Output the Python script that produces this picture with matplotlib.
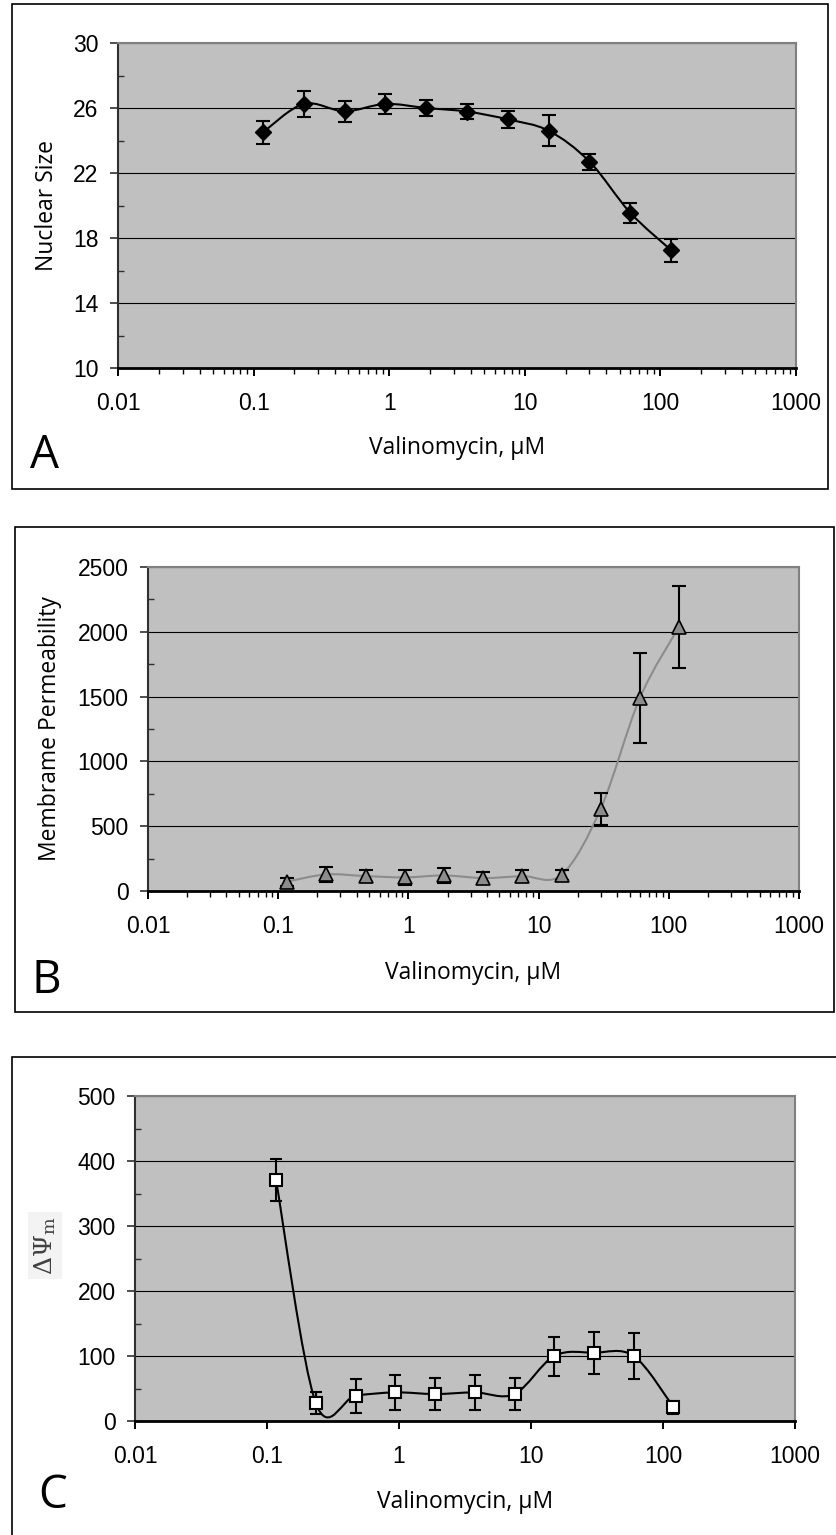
import numpy as np
import matplotlib
matplotlib.use('Agg')
import matplotlib.pyplot as plt
from matplotlib.path import Path
from matplotlib.patches import PathPatch, Rectangle
from matplotlib.ticker import FixedLocator, FixedFormatter, MultipleLocator, LogLocator, NullLocator

# ---- data ----
conc = [0.117, 0.234, 0.469, 0.938, 1.875, 3.75, 7.5, 15, 30, 60, 120]  # Valinomycin, uM
x_ticks = [0.01, 0.1, 1, 10, 100, 1000]
x_tick_labels = ['0.01', '0.1', '1', '10', '100', '1000']

nuclear_size = [24.5, 26.25, 25.8, 26.25, 26.0, 25.78, 25.3, 24.6, 22.7, 19.55, 17.25]
nuclear_err = [0.7, 0.8, 0.65, 0.6, 0.47, 0.47, 0.5, 0.95, 0.5, 0.6, 0.7]

permeability = [72, 128, 115, 105, 120, 100, 115, 125, 635, 1490, 2040]
perm_err = [30, 55, 45, 55, 55, 45, 45, 40, 122, 350, 316]

delta_psi = [371, 28, 39, 44, 41.5, 44, 41.5, 100, 105, 100, 21.5]
delta_err = [32, 17, 26, 27, 25, 27, 25, 30, 32, 36, 10]

plt.rcParams['font.family'] = ['Liberation Sans', 'DejaVu Sans']

W, H = 836, 1535
fig = plt.figure(figsize=(W / 100, H / 100), dpi=100)


def px_axes(left, top, right, bottom):
    return fig.add_axes([left / W, 1 - bottom / H, (right - left) / W, (bottom - top) / H])


def smooth_path(x, y):
    # Excel style smoothed line: cubic bezier through the points (in log-x space)
    pts = np.column_stack([np.log10(x), y])
    n = len(pts)
    verts = [pts[0]]
    codes = [Path.MOVETO]
    for i in range(n - 1):
        p0 = pts[max(i - 1, 0)]
        p1 = pts[i]
        p2 = pts[i + 1]
        p3 = pts[min(i + 2, n - 1)]
        verts += [p1 + (p2 - p0) / 6, p2 - (p3 - p1) / 6, p2]
        codes += [Path.CURVE4] * 3
    verts = np.array(verts)
    verts[:, 0] = 10 ** verts[:, 0]
    return Path(verts, codes)


def setup(ax, ylim, ystep, yminor, xminor=True):
    ax.set_facecolor('#c0c0c0')
    ax.set_xscale('log')
    ax.set_xlim(0.01, 1000)
    ax.set_ylim(*ylim)
    ax.xaxis.set_major_locator(FixedLocator(x_ticks))
    ax.xaxis.set_major_formatter(FixedFormatter(x_tick_labels))
    if xminor:
        ax.xaxis.set_minor_locator(LogLocator(base=10, subs=np.arange(2, 10), numticks=50))
    else:
        ax.xaxis.set_minor_locator(NullLocator())
    ax.yaxis.set_major_locator(MultipleLocator(ystep, offset=ylim[0] % ystep))
    ax.yaxis.set_minor_locator(MultipleLocator(yminor))
    ax.yaxis.grid(True, which='major', color='black', linewidth=0.8)
    ax.set_axisbelow(True)
    ax.tick_params(axis='y', which='major', direction='out', length=6, width=1.2,
                   pad=8, labelsize=16.5, color='#303030')
    ax.tick_params(axis='y', which='minor', direction='in', length=4.5, width=1.0, color='#303030')
    ax.tick_params(axis='x', which='major', direction='out', length=5.5, width=1.4,
                   pad=12, labelsize=16.5)
    ax.tick_params(axis='x', which='minor', direction='out', length=4, width=1.0)
    for s in ['top', 'right']:
        ax.spines[s].set_color('#808080')
        ax.spines[s].set_linewidth(1.5)
    ax.spines['left'].set_color('#303030')
    ax.spines['left'].set_linewidth(1.5)
    ax.spines['bottom'].set_color('black')
    ax.spines['bottom'].set_linewidth(2)
    ax.set_xlabel('Valinomycin, μM', fontfamily='Open Sans', fontsize=16.5)
    ax.xaxis.label.set_va('center')


def panel_box(x0, y0, x1, y1):
    fig.add_artist(Rectangle((x0 / W, 1 - y1 / H), (x1 - x0) / W, (y1 - y0) / H,
                             transform=fig.transFigure, fill=False,
                             edgecolor='black', linewidth=1.2))


# ---- A: nuclear size ----
panel_box(12, 4, 828, 489)
axA = px_axes(118, 43, 796, 368)
setup(axA, (10, 30), 4, 2)
axA.add_patch(PathPatch(smooth_path(conc, nuclear_size), fill=False, edgecolor='black', lw=1.5, zorder=3))
axA.errorbar(conc, nuclear_size, yerr=nuclear_err, fmt='none', ecolor='black',
             elinewidth=1.5, capsize=5, capthick=1.5, zorder=4)
axA.plot(conc, nuclear_size, linestyle='none', marker='D', markersize=8.5, color='black', zorder=5)
axA.set_ylabel('Nuclear Size', fontfamily='Open Sans', fontsize=16.5)
axA.yaxis.label.set_va('center')
axA.yaxis.set_label_coords(-0.105, 0.5)
axA.xaxis.set_label_coords(0.5, -0.246)
fig.text(30 / W, 1 - 468 / H, 'A', fontsize=33, fontfamily='Open Sans', va='baseline')

# ---- B: membrane permeability ----
panel_box(15, 527, 834, 1012)
axB = px_axes(148, 567, 799, 891)
setup(axB, (0, 2500), 500, 250)
axB.add_patch(PathPatch(smooth_path(conc, permeability), fill=False, edgecolor='#8c8c8c', lw=1.5, zorder=3))
axB.errorbar(conc, permeability, yerr=perm_err, fmt='none', ecolor='black',
             elinewidth=1.5, capsize=5, capthick=1.5, zorder=4)
axB.plot(conc, permeability, linestyle='none', marker='^', markersize=10,
         markerfacecolor='#8c8c8c', markeredgecolor='black', markeredgewidth=1.2, zorder=5)
axB.set_ylabel('Membrame Permeability', fontfamily='Open Sans', fontsize=16.5)
axB.yaxis.label.set_va('center')
axB.yaxis.set_label_coords(-0.150, 0.5)
axB.xaxis.set_label_coords(0.5, -0.253)
fig.text(32 / W, 1 - 993 / H, 'B', fontsize=33, fontfamily='Open Sans', va='baseline')

# ---- C: mitochondrial membrane potential ----
panel_box(12, 1057, 850, 1550)
axC = px_axes(135, 1096, 795, 1421)
setup(axC, (0, 500), 100, 50, xminor=False)
axC.add_patch(PathPatch(smooth_path(conc, delta_psi), fill=False, edgecolor='black', lw=1.5, zorder=3))
axC.errorbar(conc, delta_psi, yerr=delta_err, fmt='none', ecolor='black',
             elinewidth=1.5, capsize=4.5, capthick=1.5, zorder=4)
axC.plot(conc, delta_psi, linestyle='none', marker='s', markersize=8,
         markerfacecolor='white', markeredgecolor='black', markeredgewidth=1.5, zorder=5)
axC.set_ylabel(r'$\Delta\Psi_{\rm m}$', math_fontfamily='dejavuserif', fontsize=18,
               color='#404040',
               bbox=dict(facecolor='#f3f3f3', edgecolor='none', pad=3))
axC.yaxis.label.set_va('center')
axC.yaxis.set_label_coords(-0.136, 0.54)
axC.xaxis.set_label_coords(0.5, -0.249)
fig.text(38 / W, 1 - 1508 / H, 'C', fontsize=33, fontfamily='Open Sans', va='baseline')

fig.savefig('out.png', dpi=100)
